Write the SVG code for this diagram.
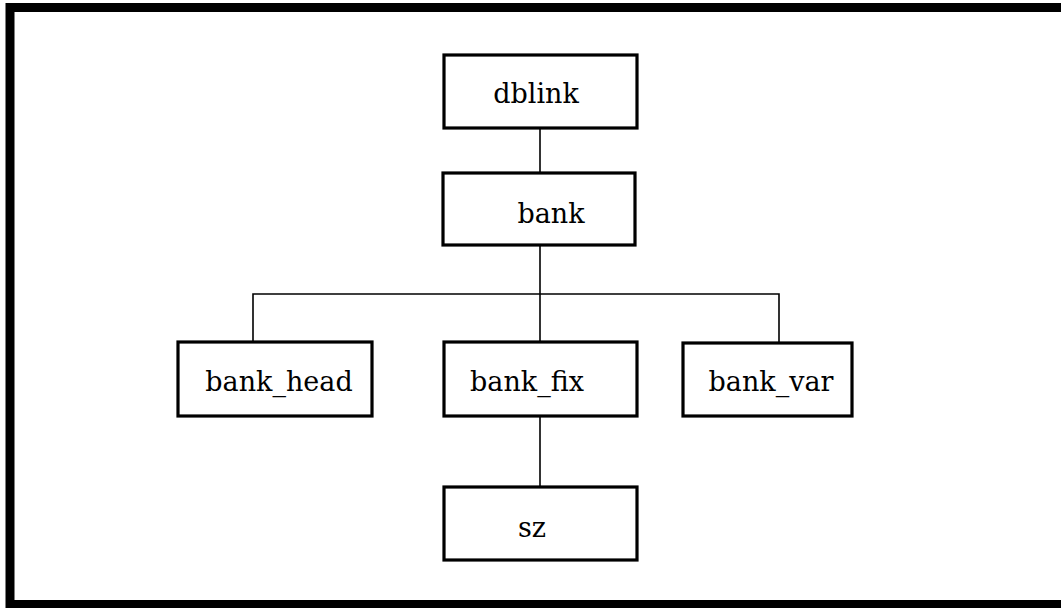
<svg xmlns="http://www.w3.org/2000/svg" width="1061" height="608" viewBox="0 0 1061 608">
<style>
.box{fill:#fff;stroke:#000;stroke-width:3.2}
.lbl{font-family:"DejaVu Serif","Liberation Serif",serif;font-size:27px;fill:#000;text-anchor:middle}
.con{fill:none;stroke:#000;stroke-width:1.6}
</style>
<rect x="0" y="0" width="1061" height="608" fill="#fff"/>
<rect x="10" y="7.5" width="1060" height="597" fill="none" stroke="#000" stroke-width="9"/>
<g id="connectors">
<path class="con" d="M540,128 V173"/>
<path class="con" d="M540,245 V294"/>
<path class="con" d="M253,342 V294 H779 V343"/>
<path class="con" d="M540,294 V342"/>
<path class="con" d="M540,416 V487"/>
</g>
<g id="dblink"><rect class="box" x="444" y="55" width="193" height="73"/><text class="lbl" x="536" y="103">dblink</text></g>
<g id="bank"><rect class="box" x="443" y="173" width="192" height="72"/><text class="lbl" x="551" y="223">bank</text></g>
<g id="bank_head"><rect class="box" x="178" y="342" width="194" height="74"/><text class="lbl" x="279" y="391">bank_head</text></g>
<g id="bank_fix"><rect class="box" x="444" y="342" width="193" height="74"/><text class="lbl" x="527" y="391">bank_fix</text></g>
<g id="bank_var"><rect class="box" x="683" y="343" width="169" height="73"/><text class="lbl" x="771" y="391">bank_var</text></g>
<g id="sz"><rect class="box" x="444" y="487" width="193" height="73"/><text class="lbl" x="532" y="537">sz</text></g>
</svg>
